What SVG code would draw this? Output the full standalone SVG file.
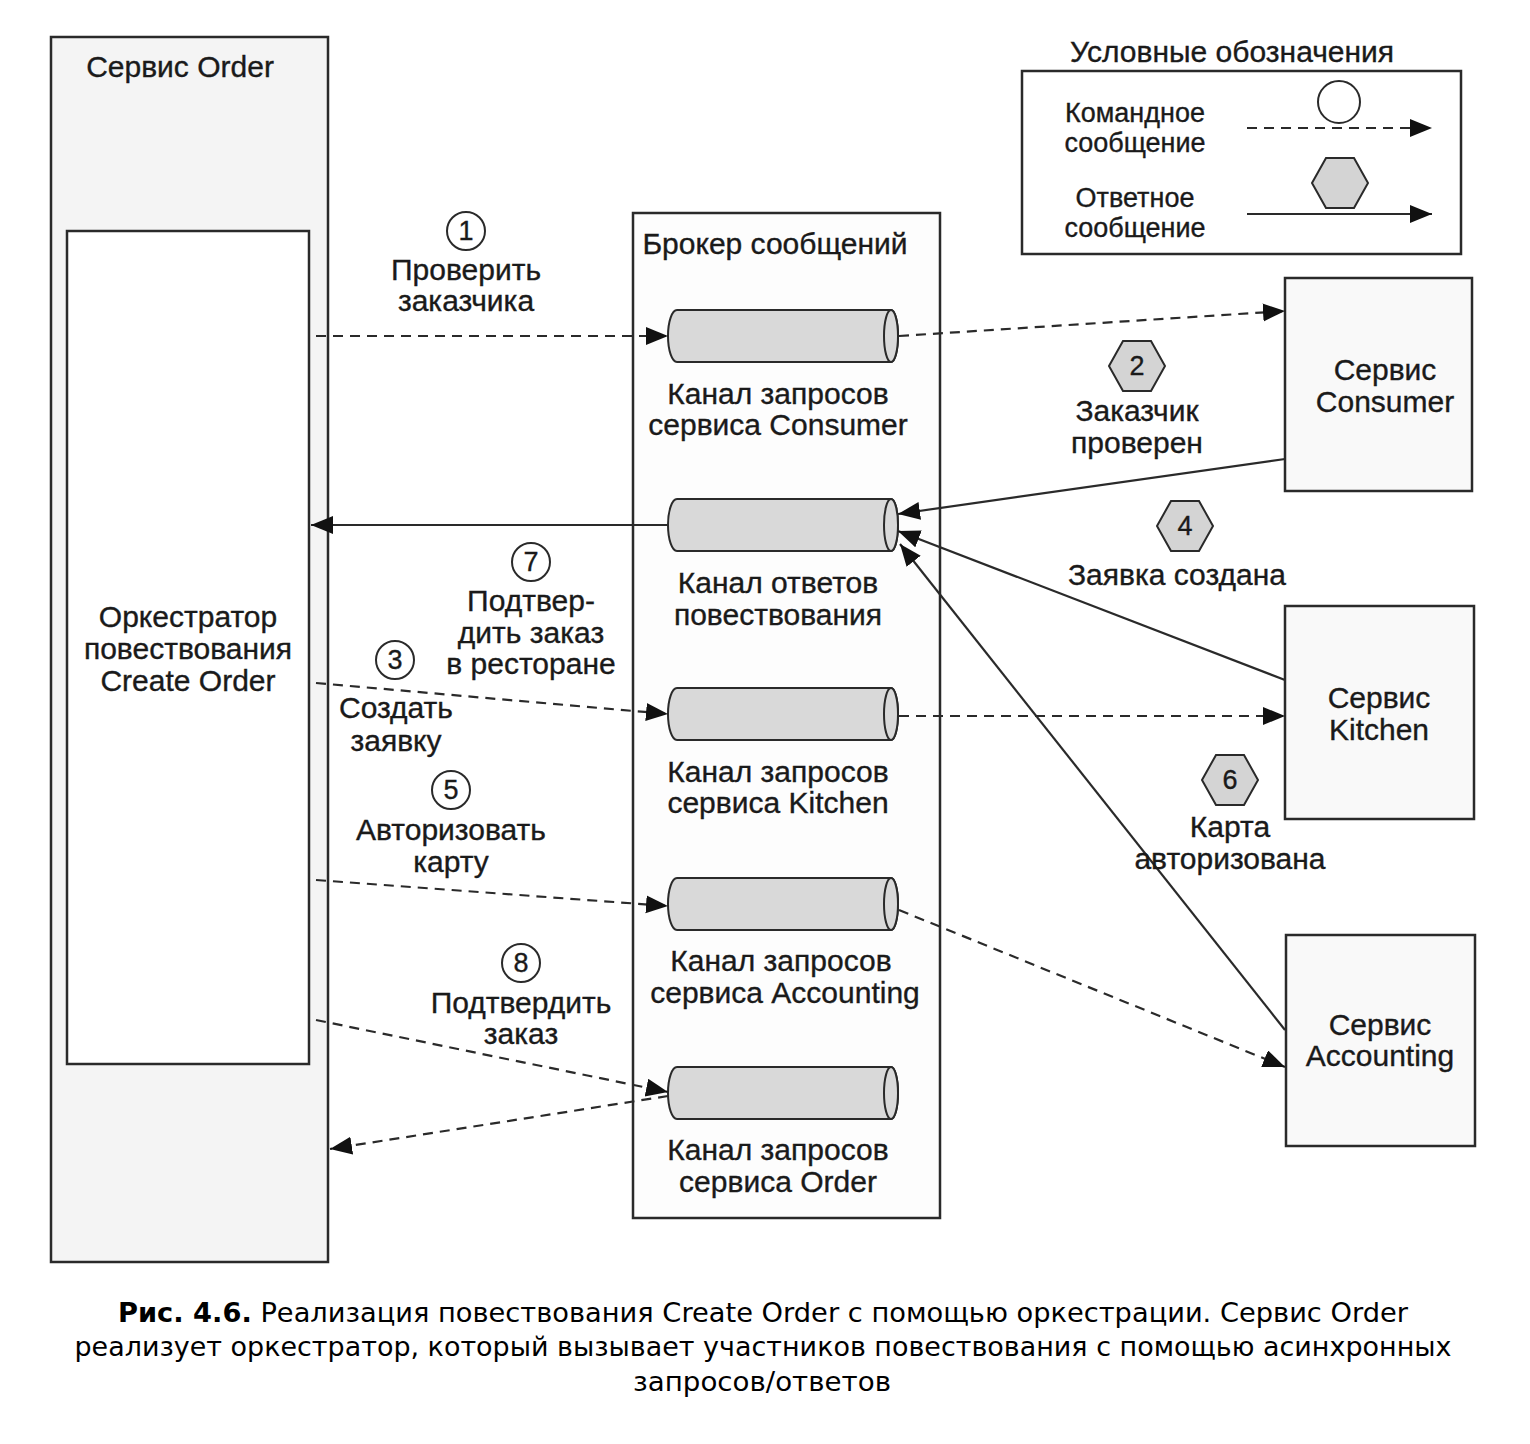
<svg xmlns="http://www.w3.org/2000/svg" width="1530" height="1444" viewBox="0 0 1530 1444">
  <style>
    .t { font-family: "Liberation Sans", Arial, sans-serif; font-size: 30px; fill: #1a1a1a; stroke: #1a1a1a; stroke-width: 0.35; text-anchor: middle; dominant-baseline: central; }
    .lg { font-size: 27px; }
    .num { font-family: "Liberation Sans", Arial, sans-serif; font-size: 27px; fill: #1a1a1a; stroke: #1a1a1a; stroke-width: 0.35; text-anchor: middle; dominant-baseline: central; }
    .box { stroke: #2a2a2a; stroke-width: 2.5; }
    .cyl { fill: #d9d9d9; stroke: #2a2a2a; stroke-width: 2; }
    .cmd { fill: none; stroke: #2a2a2a; stroke-width: 2.2; stroke-dasharray: 10 7; }
    .rep { fill: none; stroke: #2a2a2a; stroke-width: 2.2; }
    .hex { fill: #d4d4d4; stroke: #2a2a2a; stroke-width: 2; }
    .circ { fill: #ffffff; stroke: #2a2a2a; stroke-width: 2; }
    .cap { font-family: "DejaVu Sans", Verdana, sans-serif; font-size: 27px; fill: #000; text-anchor: middle; dominant-baseline: central; }
  </style>
  <defs>
    <marker id="ah" markerUnits="userSpaceOnUse" markerWidth="24" markerHeight="20" refX="22" refY="9" orient="auto">
      <path d="M0,0 L22,9 L0,18 Z" fill="#111"/>
    </marker>
    <polygon id="hexShape" points="-28,0 -14,-25 14,-25 28,0 14,25 -14,25"/>
    <!-- channel cylinder: body with rounded left end and an elliptical right cap -->
    <g id="channel">
      <path class="cyl" d="M677,0 H891 A7 26 0 0 1 891,52 H677 A9 26 0 0 1 677,0 Z"/>
      <ellipse class="cyl" cx="891" cy="26" rx="7" ry="26"/>
    </g>
  </defs>

  <rect width="1530" height="1444" fill="#ffffff"/>

  <!-- Order service with the saga orchestrator -->
  <g id="order-service">
    <rect class="box" x="51" y="37" width="277" height="1225" fill="#f4f4f4"/>
    <text class="t" x="180" y="66">Сервис Order</text>
    <rect class="box" x="67" y="231" width="242" height="833" fill="#ffffff"/>
    <text class="t" x="188" y="616">Оркестратор</text>
    <text class="t" x="188" y="648">повествования</text>
    <text class="t" x="188" y="680">Create Order</text>
  </g>

  <!-- Message broker with its channels -->
  <g id="message-broker">
    <rect class="box" x="633" y="213" width="307" height="1005" fill="#fdfdfd"/>
    <text class="t" x="775" y="243">Брокер сообщений</text>
  </g>
  <g id="consumer-request-channel">
    <use href="#channel" y="310"/>
    <text class="t" x="778" y="393">Канал запросов</text>
    <text class="t" x="778" y="424">сервиса Consumer</text>
  </g>
  <g id="saga-reply-channel">
    <use href="#channel" y="499"/>
    <text class="t" x="778" y="582">Канал ответов</text>
    <text class="t" x="778" y="614">повествования</text>
  </g>
  <g id="kitchen-request-channel">
    <use href="#channel" y="688"/>
    <text class="t" x="778" y="771">Канал запросов</text>
    <text class="t" x="778" y="802">сервиса Kitchen</text>
  </g>
  <g id="accounting-request-channel">
    <use href="#channel" y="878"/>
    <text class="t" x="781" y="960">Канал запросов</text>
    <text class="t" x="785" y="992">сервиса Accounting</text>
  </g>
  <g id="order-request-channel">
    <use href="#channel" y="1067"/>
    <text class="t" x="778" y="1149">Канал запросов</text>
    <text class="t" x="778" y="1181">сервиса Order</text>
  </g>

  <!-- Participant services -->
  <g id="consumer-service">
    <rect class="box" x="1285" y="278" width="187" height="213" fill="#f9f9f9"/>
    <text class="t" x="1385" y="369">Сервис</text>
    <text class="t" x="1385" y="401">Consumer</text>
  </g>
  <g id="kitchen-service">
    <rect class="box" x="1285" y="606" width="189" height="213" fill="#f9f9f9"/>
    <text class="t" x="1379" y="697">Сервис</text>
    <text class="t" x="1379" y="729">Kitchen</text>
  </g>
  <g id="accounting-service">
    <rect class="box" x="1286" y="935" width="189" height="211" fill="#f9f9f9"/>
    <text class="t" x="1380" y="1024">Сервис</text>
    <text class="t" x="1380" y="1055">Accounting</text>
  </g>

  <!-- Legend -->
  <g id="legend">
    <text class="t" x="1232" y="51">Условные обозначения</text>
    <rect class="box" x="1022" y="71" width="439" height="183" fill="#ffffff"/>
    <text class="t lg" x="1135" y="113">Командное</text>
    <text class="t lg" x="1135" y="143">сообщение</text>
    <circle class="circ" cx="1339" cy="102" r="21"/>
    <line class="cmd" x1="1247" y1="128" x2="1432" y2="128" marker-end="url(#ah)"/>
    <text class="t lg" x="1135" y="198">Ответное</text>
    <text class="t lg" x="1135" y="228">сообщение</text>
    <use href="#hexShape" class="hex" x="1340" y="183"/>
    <line class="rep" x1="1247" y1="214" x2="1432" y2="214" marker-end="url(#ah)"/>
  </g>

  <!-- Connectors -->
  <g id="connectors">
    <!-- commands -->
    <line class="cmd" x1="316" y1="336" x2="668" y2="336" marker-end="url(#ah)"/>
    <line class="cmd" x1="899" y1="336" x2="1285" y2="311" marker-end="url(#ah)"/>
    <line class="cmd" x1="316" y1="683" x2="668" y2="714" marker-end="url(#ah)"/>
    <line class="cmd" x1="899" y1="716" x2="1285" y2="716" marker-end="url(#ah)"/>
    <line class="cmd" x1="316" y1="880" x2="668" y2="906" marker-end="url(#ah)"/>
    <line class="cmd" x1="899" y1="910" x2="1285" y2="1067" marker-end="url(#ah)"/>
    <line class="cmd" x1="316" y1="1020" x2="668" y2="1092" marker-end="url(#ah)"/>
    <line class="cmd" x1="668" y1="1096" x2="330" y2="1149" marker-end="url(#ah)"/>
    <!-- replies -->
    <line class="rep" x1="1285" y1="459" x2="898" y2="514" marker-end="url(#ah)"/>
    <line class="rep" x1="1285" y1="680" x2="898" y2="531" marker-end="url(#ah)"/>
    <line class="rep" x1="1285" y1="1030" x2="900" y2="544" marker-end="url(#ah)"/>
    <line class="rep" x1="668" y1="525" x2="311" y2="525" marker-end="url(#ah)"/>
  </g>

  <!-- Message labels -->
  <g id="msg-1">
    <circle class="circ" cx="466" cy="231" r="19"/>
    <text class="num" x="466" y="231">1</text>
    <text class="t" x="466" y="269">Проверить</text>
    <text class="t" x="466" y="300">заказчика</text>
  </g>
  <g id="msg-2">
    <use href="#hexShape" class="hex" x="1137" y="366"/>
    <text class="num" x="1137" y="366">2</text>
    <text class="t" x="1137" y="410">Заказчик</text>
    <text class="t" x="1137" y="442">проверен</text>
  </g>
  <g id="msg-4">
    <use href="#hexShape" class="hex" x="1185" y="526"/>
    <text class="num" x="1185" y="526">4</text>
    <text class="t" x="1177" y="574">Заявка создана</text>
  </g>
  <g id="msg-7">
    <circle class="circ" cx="531" cy="562" r="19"/>
    <text class="num" x="531" y="562">7</text>
    <text class="t" x="531" y="600">Подтвер-</text>
    <text class="t" x="531" y="632">дить заказ</text>
    <text class="t" x="531" y="663">в ресторане</text>
  </g>
  <g id="msg-3">
    <circle class="circ" cx="395" cy="660" r="19"/>
    <text class="num" x="395" y="660">3</text>
    <text class="t" x="396" y="707">Создать</text>
    <text class="t" x="396" y="740">заявку</text>
  </g>
  <g id="msg-5">
    <circle class="circ" cx="451" cy="790" r="19"/>
    <text class="num" x="451" y="790">5</text>
    <text class="t" x="451" y="829">Авторизовать</text>
    <text class="t" x="451" y="861">карту</text>
  </g>
  <g id="msg-6">
    <use href="#hexShape" class="hex" x="1230" y="780"/>
    <text class="num" x="1230" y="780">6</text>
    <text class="t" x="1230" y="826">Карта</text>
    <text class="t" x="1230" y="858">авторизована</text>
  </g>
  <g id="msg-8">
    <circle class="circ" cx="521" cy="963" r="19"/>
    <text class="num" x="521" y="963">8</text>
    <text class="t" x="521" y="1002">Подтвердить</text>
    <text class="t" x="521" y="1033">заказ</text>
  </g>

  <!-- Figure caption -->
  <g id="caption">
    <text class="cap" x="763" y="1312" textLength="1290" lengthAdjust="spacingAndGlyphs"><tspan font-weight="bold">Рис. 4.6.</tspan> Реализация повествования Create Order с помощью оркестрации. Сервис Order</text>
    <text class="cap" x="763" y="1346" textLength="1377" lengthAdjust="spacingAndGlyphs">реализует оркестратор, который вызывает участников повествования с помощью асинхронных</text>
    <text class="cap" x="762" y="1381" textLength="258" lengthAdjust="spacingAndGlyphs">запросов/ответов</text>
  </g>
</svg>
